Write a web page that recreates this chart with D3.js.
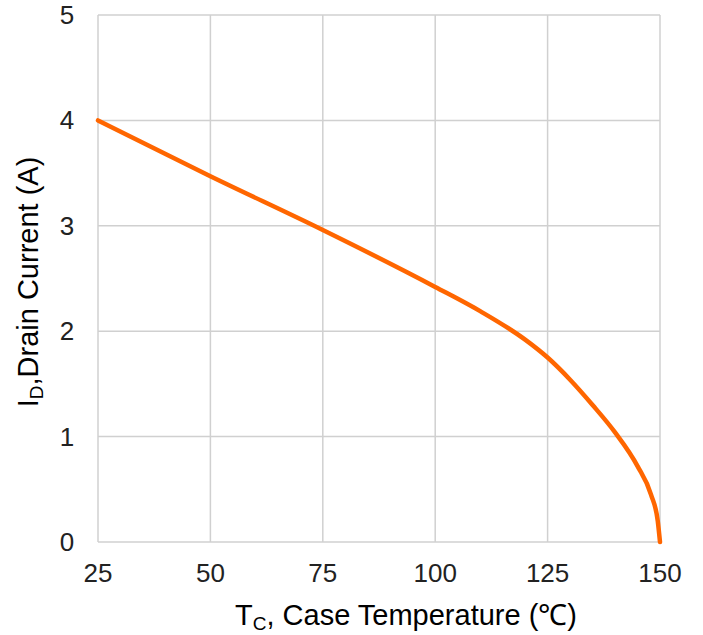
<!DOCTYPE html>
<html>
<head>
<meta charset="utf-8">
<script src="https://cdnjs.cloudflare.com/ajax/libs/d3/7.8.5/d3.min.js"></script>
<style>
  body { margin: 0; background: #fff; }
  text { font-family: "Liberation Sans", Arial, sans-serif; }
</style>
</head>
<body>
<svg id="chart" width="703" height="635"></svg>
<script>
// data
var temps   = [25, 50, 75, 100, 110, 120, 125, 130, 135, 140, 145, 148, 149.5, 150];
var current = [4.0, 3.47, 2.96, 2.42, 2.19, 1.92, 1.75, 1.54, 1.30, 1.04, 0.72, 0.45, 0.2, 0];
var xTicks = [25, 50, 75, 100, 125, 150];
var yTicks = [0, 1, 2, 3, 4, 5];

var svg = d3.select("#chart");
var plotL = 98, plotR = 660, plotT = 15, plotB = 542;

var x = d3.scaleLinear().domain([25, 150]).range([plotL, plotR]);
var y = d3.scaleLinear().domain([0, 5]).range([plotB, plotT]);

// grid
svg.append("g").selectAll("line").data(xTicks).enter().append("line")
    .attr("x1", d => x(d)).attr("x2", d => x(d))
    .attr("y1", plotT).attr("y2", plotB)
    .attr("stroke", "#d0d0d0").attr("stroke-width", 1.5);
svg.append("g").selectAll("line").data(yTicks).enter().append("line")
    .attr("x1", plotL).attr("x2", plotR)
    .attr("y1", d => y(d)).attr("y2", d => y(d))
    .attr("stroke", "#d0d0d0").attr("stroke-width", 1.5);

// tick labels
svg.append("g").selectAll("text").data(xTicks).enter().append("text")
    .attr("x", d => x(d)).attr("y", 582)
    .attr("text-anchor", "middle")
    .attr("font-size", 26).attr("fill", "#222")
    .text(d => d);
svg.append("g").selectAll("text").data(yTicks).enter().append("text")
    .attr("x", 67).attr("y", d => y(d) + 9)
    .attr("text-anchor", "middle")
    .attr("font-size", 26).attr("fill", "#222")
    .text(d => d);

// curve
var pts = temps.map((t, i) => [t, current[i]]);
var line = d3.line()
    .x(d => x(d[0])).y(d => y(d[1]))
    .curve(d3.curveMonotoneX);
svg.append("path").datum(pts)
    .attr("d", line)
    .attr("fill", "none")
    .attr("stroke", "#ff6600")
    .attr("stroke-width", 4.5)
    .attr("stroke-linecap", "round");

// axis titles
var xt = svg.append("text")
    .attr("x", 406).attr("y", 625)
    .attr("text-anchor", "middle")
    .attr("font-size", 29).attr("fill", "#000");
xt.append("tspan").text("T");
xt.append("tspan").attr("font-size", 19).attr("dy", 5).text("C");
xt.append("tspan").attr("dy", -5).text(", Case Temperature (℃)");

var yt = svg.append("text")
    .attr("transform", "translate(38,282) rotate(-90)")
    .attr("text-anchor", "middle")
    .attr("font-size", 29).attr("fill", "#000");
yt.append("tspan").text("I");
yt.append("tspan").attr("font-size", 19).attr("dy", 5).text("D");
yt.append("tspan").attr("dy", -5).text(",Drain Current (A)");
</script>
</body>
</html>
